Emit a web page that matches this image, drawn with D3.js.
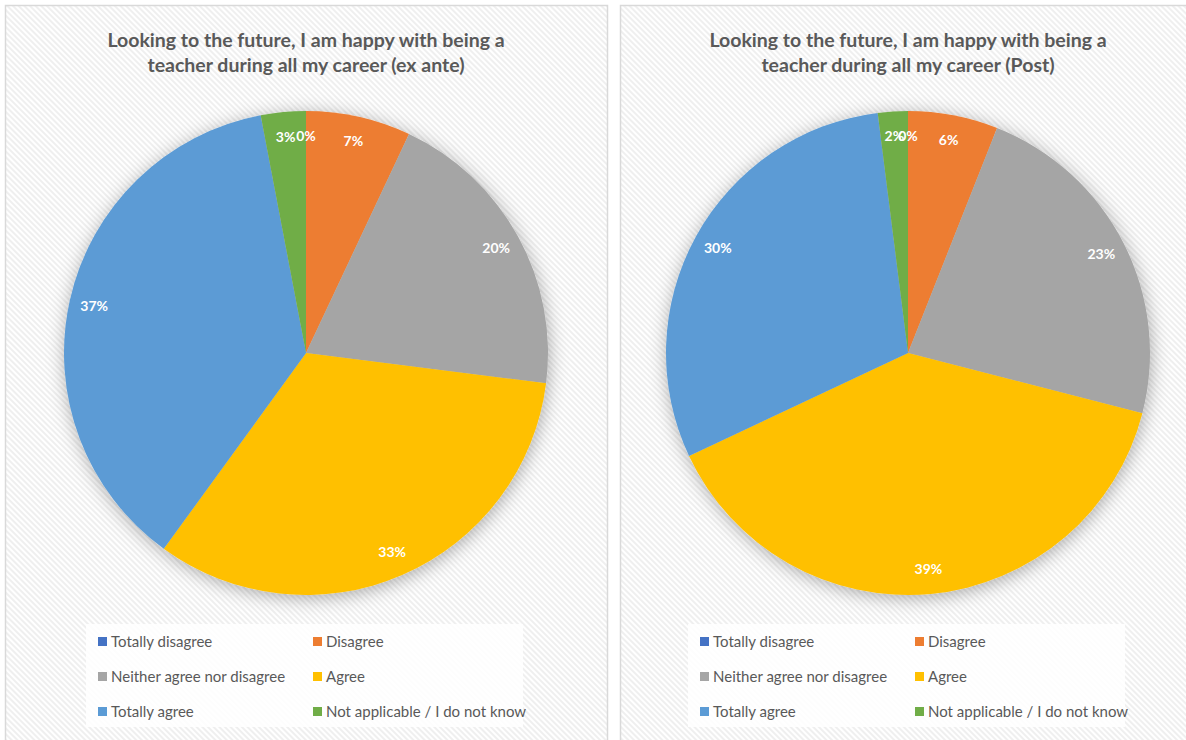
<!DOCTYPE html>
<html>
<head>
<meta charset="utf-8">
<script src="https://cdn.jsdelivr.net/npm/d3@7"></script>
<style>
  html, body { margin: 0; padding: 0; background: #ffffff; }
  svg { display: block; }
</style>
</head>
<body>
<svg id="chart" width="1186" height="740"></svg>
<script>
// Answer categories, in slice order (clockwise from 12 o'clock)
const categories = [
  "Totally disagree",
  "Disagree",
  "Neither agree nor disagree",
  "Agree",
  "Totally agree",
  "Not applicable / I do not know"
];

// Share of respondents (%) per category
const exAnteValues = [0, 7, 20, 33, 37, 3];
const postValues = [0, 6, 23, 39, 30, 2];

// Chart titles, one entry per line
const exAnteTitle = ["Looking to the future, I am happy with being a", "teacher during all my career (ex ante)"];
const postTitle = ["Looking to the future, I am happy with being a", "teacher during all my career (Post)"];

const palette = ["#4472C4", "#ED7D31", "#A5A5A5", "#FFC000", "#5B9BD5", "#70AD47"];

const svg = d3.select("#chart");
const defs = svg.append("defs");

// Light diagonal hatch used as the chart-area fill
const pat = defs.append("pattern")
  .attr("id", "hatch")
  .attr("patternUnits", "userSpaceOnUse")
  .attr("width", 4).attr("height", 4)
  .attr("patternTransform", "rotate(-45)");
pat.append("rect").attr("width", 4).attr("height", 4).attr("fill", "#ffffff");
pat.append("rect").attr("width", 2).attr("height", 4).attr("fill", "#efefef");

// Soft shadow under the pie
const filt = defs.append("filter")
  .attr("id", "pieShadow")
  .attr("x", "-20%").attr("y", "-20%")
  .attr("width", "140%").attr("height", "140%");
filt.append("feDropShadow")
  .attr("dx", 1).attr("dy", 3)
  .attr("stdDeviation", 9)
  .attr("flood-color", "#000")
  .attr("flood-opacity", 0.32);

const color = d3.scaleOrdinal().domain(categories).range(palette);

const pie = d3.pie().sort(null).value(d => d.value);
const radius = 242;
const arc = d3.arc().innerRadius(0).outerRadius(radius);
const labelArc = d3.arc().innerRadius(217).outerRadius(217);

const panels = [
  { x: 5.5, width: 602, cx: 306, values: exAnteValues, title: exAnteTitle },
  { x: 620.5, width: 600, cx: 908, values: postValues, title: postTitle }
];

panels.forEach(p => {
  const g = svg.append("g");

  // chart area frame
  g.append("rect")
    .attr("x", p.x).attr("y", 5.5)
    .attr("width", p.width).attr("height", 760)
    .attr("fill", "url(#hatch)")
    .attr("stroke", "#d9d9d9")
    .attr("stroke-width", 1.5);

  // title
  const title = g.append("text")
    .attr("text-anchor", "middle")
    .attr("font-family", "Lato, 'Open Sans', sans-serif")
    .attr("font-weight", "bold")
    .attr("font-size", 19.5)
    .attr("fill", "#595959");
  p.title.forEach((line, i) => {
    title.append("tspan")
      .attr("x", p.cx)
      .attr("y", 47 + i * 25)
      .text(line);
  });

  const data = categories.map((c, i) => ({ category: c, value: p.values[i] }));
  const arcs = pie(data);

  const pieG = g.append("g").attr("transform", `translate(${p.cx},353)`);

  pieG.append("g")
    .attr("filter", "url(#pieShadow)")
    .selectAll("path")
    .data(arcs)
    .join("path")
    .attr("d", arc)
    .attr("fill", d => color(d.data.category));

  pieG.append("g")
    .selectAll("text")
    .data(arcs)
    .join("text")
    .attr("transform", d => `translate(${labelArc.centroid(d)})`)
    .attr("text-anchor", "middle")
    .attr("dy", "0.35em")
    .attr("font-family", "Lato, 'Open Sans', sans-serif")
    .attr("font-weight", "bold")
    .attr("font-size", 14)
    .attr("fill", "#ffffff")
    .text(d => d3.format(".0f")(d.data.value) + "%");

  // legend
  const leg = g.append("g").attr("transform", `translate(${p.cx},0)`);
  leg.append("rect")
    .attr("x", -220).attr("y", 624)
    .attr("width", 437).attr("height", 103)
    .attr("fill", "#ffffff")
    .attr("opacity", 0.85);

  const item = leg.selectAll("g.item")
    .data(categories)
    .join("g")
    .attr("class", "item")
    .attr("transform", (d, i) => `translate(${i % 2 === 0 ? -208 : 7},${642 + Math.floor(i / 2) * 35})`);

  item.append("rect")
    .attr("x", 0).attr("y", -5)
    .attr("width", 9).attr("height", 9)
    .attr("fill", d => color(d));

  item.append("text")
    .attr("x", 13)
    .attr("dy", "0.35em")
    .attr("font-family", "Lato, 'Open Sans', sans-serif")
    .attr("font-size", 15)
    .attr("fill", "#595959")
    .text(d => d);
});
</script>
</body>
</html>
